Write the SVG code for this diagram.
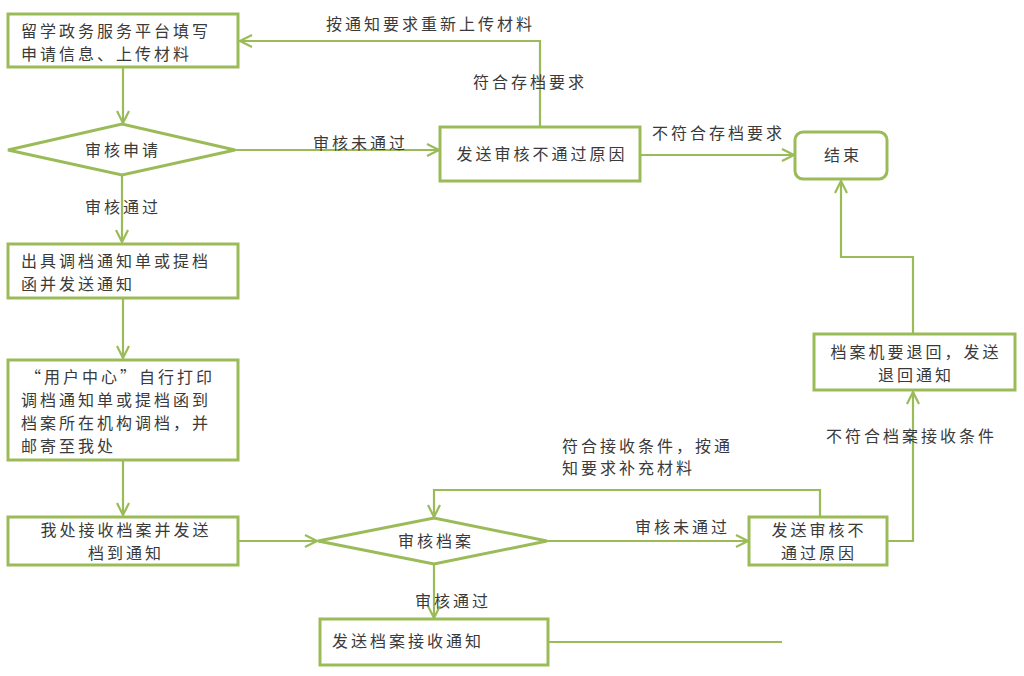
<svg xmlns="http://www.w3.org/2000/svg" width="1024" height="676" viewBox="0 0 1024 676">
<style>
.box{fill:#fff;stroke:#9bbb59;stroke-width:3}
.ln{fill:none;stroke:#9bbb59;stroke-width:2.2}
.t{font-family:"Noto Sans CJK SC","Liberation Sans",sans-serif;font-size:16px;fill:#3a3a3a;letter-spacing:3px}
.m{text-anchor:middle}
</style>
<defs>
<marker id="arr" markerUnits="userSpaceOnUse" markerWidth="16" markerHeight="16" viewBox="0 0 16 16" refX="14" refY="8" orient="auto">
<path d="M2,2 L14,8 L2,14" fill="none" stroke="#9bbb59" stroke-width="2.2"/>
</marker>
</defs>
<rect width="1024" height="676" fill="#fff"/>
<g id="connectors">
<path class="ln" d="M123,67 V123" marker-end="url(#arr)"/>
<path class="ln" d="M235,150 H439" marker-end="url(#arr)"/>
<path class="ln" d="M540,127 V41 H240" marker-end="url(#arr)"/>
<path class="ln" d="M640,155 H794" marker-end="url(#arr)"/>
<path class="ln" d="M122,175 V242" marker-end="url(#arr)"/>
<path class="ln" d="M123,298 V358" marker-end="url(#arr)"/>
<path class="ln" d="M123,460 V515" marker-end="url(#arr)"/>
<path class="ln" d="M238,541 H317" marker-end="url(#arr)"/>
<path class="ln" d="M547,541 H748" marker-end="url(#arr)"/>
<path class="ln" d="M434,564 V618" marker-end="url(#arr)"/>
<path class="ln" d="M820,517 V490 H434 V517" marker-end="url(#arr)"/>
<path class="ln" d="M887,541 H913 V392" marker-end="url(#arr)"/>
<path class="ln" d="M913,334 V257 H841 V181" marker-end="url(#arr)"/>
<path class="ln" d="M548,642 H782"/>
<text class="t" x="326" y="30">按通知要求重新上传材料</text>
<text class="t" x="473" y="88">符合存档要求</text>
<text class="t" x="313" y="149">审核未通过</text>
<text class="t" x="652" y="139">不符合存档要求</text>
<text class="t" x="85" y="213">审核通过</text>
<text class="t" x="562" y="452">符合接收条件，按通</text>
<text class="t" x="562" y="474">知要求补充材料</text>
<text class="t" x="635" y="533">审核未通过</text>
<text class="t" x="415" y="607">审核通过</text>
<text class="t" x="826" y="442">不符合档案接收条件</text>
</g>
<g id="n1"><rect class="box" x="8" y="14" width="230" height="53"/>
<text class="t" x="21" y="37">留学政务服务平台填写</text>
<text class="t" x="21" y="60">申请信息、上传材料</text></g>
<g id="d1"><polygon class="box" points="8,150 122,124 235,150 122,175"/>
<text class="t m" x="123" y="156">审核申请</text></g>
<g id="n2"><rect class="box" x="440" y="127" width="200" height="54"/>
<text class="t m" x="542" y="160">发送审核不通过原因</text></g>
<g id="end"><rect class="box" x="795" y="132" width="92" height="47" rx="8"/>
<text class="t m" x="843" y="161">结束</text></g>
<g id="n3"><rect class="box" x="8" y="244" width="230" height="54"/>
<text class="t" x="21" y="267">出具调档通知单或提档</text>
<text class="t" x="21" y="290">函并发送通知</text></g>
<g id="n4"><rect class="box" x="8" y="360" width="230" height="100"/>
<text class="t" x="25" y="383">“用户中心”自行打印</text>
<text class="t" x="21" y="406">调档通知单或提档函到</text>
<text class="t" x="21" y="429">档案所在机构调档，并</text>
<text class="t" x="21" y="452">邮寄至我处</text></g>
<g id="n5"><rect class="box" x="8" y="517" width="230" height="48"/>
<text class="t m" x="126" y="536">我处接收档案并发送</text>
<text class="t m" x="126" y="559">档到通知</text></g>
<g id="d2"><polygon class="box" points="318,541 434,518 547,541 434,564"/>
<text class="t m" x="436" y="547">审核档案</text></g>
<g id="n6"><rect class="box" x="749" y="517" width="138" height="48"/>
<text class="t m" x="819" y="536">发送审核不</text>
<text class="t m" x="819" y="559">通过原因</text></g>
<g id="n7"><rect class="box" x="814" y="334" width="201" height="56"/>
<text class="t m" x="916" y="358">档案机要退回，发送</text>
<text class="t m" x="916" y="381">退回通知</text></g>
<g id="n8"><rect class="box" x="320" y="619" width="228" height="46"/>
<text class="t" x="332" y="647">发送档案接收通知</text></g>
</svg>
